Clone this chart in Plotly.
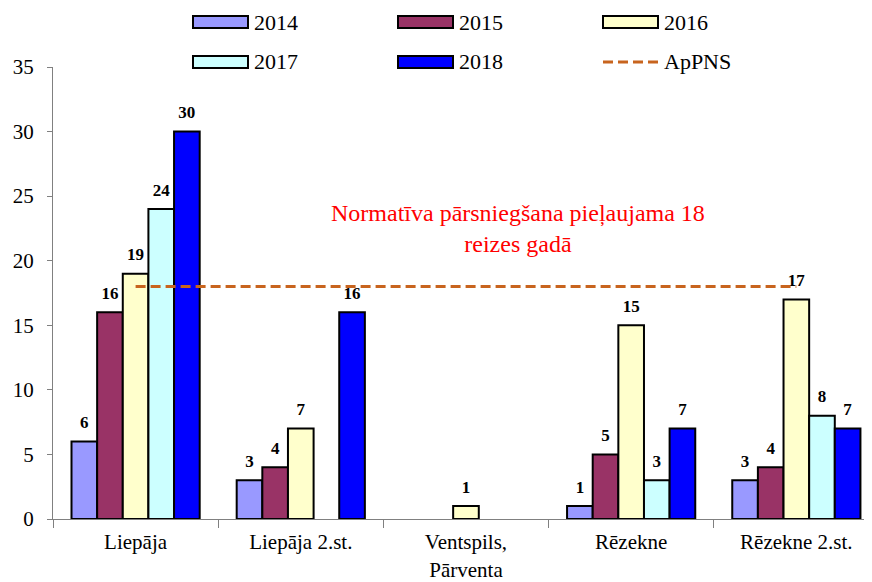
import plotly.graph_objects as go

# categories and series
stations = ['Liepāja', 'Liepāja 2.st.', 'Ventspils,<br>Pārventa', 'Rēzekne', 'Rēzekne 2.st.']
years = ['2014', '2015', '2016', '2017', '2018']
v2014 = [6, 3, None, 1, 3]
v2015 = [16, 4, None, 5, 4]
v2016 = [19, 7, 1, 15, 17]
v2017 = [24, None, None, 3, 8]
v2018 = [30, 16, None, 7, 7]
limit = [18, 18, 18, 18, 18]
limit_name = 'ApPNS'
note = 'Normatīva pārsniegšana pieļaujama 18<br>reizes gadā'

colors = ['#9999FF', '#993366', '#FFFFCC', '#CCFFFF', '#0000FF']
line_color = '#C8641E'
font = 'Times New Roman, Liberation Serif, serif'

# figure geometry (px); page body adds an 8px offset
W, H = 864, 574
L, R, T, B = 45, 0, 59, 63
PW, PH = W - L - R, H - T - B

def px_x(x):
    # pixel in the page -> paper fraction
    return (x - 8 - L) / PW

def px_y(y):
    return (H - B - (y - 8)) / PH

fig = go.Figure()
series = [v2014, v2015, v2016, v2017, v2018]
for i, (yr, vals) in enumerate(zip(years, series)):
    fig.add_trace(go.Bar(
        x=stations, y=vals, name=yr, showlegend=False, offsetgroup=yr,
        marker=dict(color=colors[i], line=dict(color='black', width=2)),
    ))
# value labels, dodged the same way as the bars
for yr, vals in zip(years, series):
    fig.add_trace(go.Scatter(
        x=stations, y=vals, mode='markers+text', offsetgroup=yr, showlegend=False,
        text=['' if v is None else str(v) for v in vals], textposition='top center',
        marker=dict(size=13, opacity=0), hoverinfo='skip', cliponaxis=False,
        textfont=dict(family=font, size=17, color='black', weight='bold'),
    ))

# limit line sits on the category centres (middle group)
fig.add_trace(go.Scatter(
    x=stations, y=limit, name=limit_name, mode='lines', showlegend=False,
    offsetgroup=years[2],
    line=dict(color=line_color, width=3, dash='10px,5px'),
))

fig.add_annotation(x=2.315, y=22.46, text=note, showarrow=False,
                   font=dict(family=font, size=24, color='red'))

# hand-made legend: 2 rows x 3 columns with wide patches like the original
col_left = [193, 398, 603]
row_mid = [22, 62]
entries = years + [limit_name]
for k, name in enumerate(entries):
    x0 = col_left[k % 3]
    yc = row_mid[k // 3]
    if name == limit_name:
        fig.add_shape(type='line', xref='paper', yref='paper',
                      x0=px_x(x0), x1=px_x(x0 + 55), y0=px_y(yc), y1=px_y(yc),
                      line=dict(color=line_color, width=3, dash='10px,5px'))
    else:
        fig.add_shape(type='rect', xref='paper', yref='paper',
                      x0=px_x(x0), x1=px_x(x0 + 55), y0=px_y(yc + 6), y1=px_y(yc - 6),
                      fillcolor=colors[k], line=dict(color='black', width=2))
    fig.add_annotation(xref='paper', yref='paper', x=px_x(x0 + 59), y=px_y(yc),
                       xanchor='left', yanchor='middle', text=name, showarrow=False,
                       font=dict(family=font, size=22, color='black'))

fig.update_layout(
    width=W, height=H,
    margin=dict(l=L, r=R, t=T, b=B),
    paper_bgcolor='white', plot_bgcolor='white',
    barmode='group', bargap=0.224, bargroupgap=0,
    scattermode='group', scattergap=0.224,
    font=dict(family=font, size=21, color='black'),
    showlegend=False,
)
fig.update_xaxes(range=[-0.5, 4.458], showline=True, linecolor='#808080', linewidth=1,
                 ticks='outside', tickson='boundaries', ticklen=8, tickcolor='#808080',
                 showgrid=False, automargin=False, ticklabelstandoff=4,
                 tickfont=dict(family=font, size=21))
fig.update_yaxes(range=[0, 35], dtick=5, showline=True, linecolor='#808080', linewidth=1,
                 ticks='outside', ticklen=5, tickcolor='#808080', showgrid=False,
                 zeroline=False, automargin=False, ticklabelstandoff=9,
                 tickfont=dict(family=font, size=21))

fig.write_html('out.html')
